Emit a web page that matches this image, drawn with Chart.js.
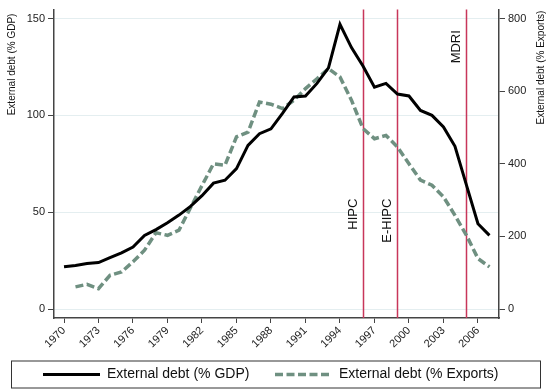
<!DOCTYPE html>
<html>
<head>
<meta charset="utf-8">
<script src="https://cdn.jsdelivr.net/npm/chart.js@4.4.1/dist/chart.umd.min.js"></script>
<style>
  html, body { margin: 0; padding: 0; background: #fff; }
  #wrap { width: 551px; height: 392px; }
</style>
</head>
<body>
<div id="wrap"><canvas id="debtChart"></canvas></div>
<script>
// data
const years = [1970, 1971, 1972, 1973, 1974, 1975, 1976, 1977, 1978, 1979,
               1980, 1981, 1982, 1983, 1984, 1985, 1986, 1987, 1988, 1989,
               1990, 1991, 1992, 1993, 1994, 1995, 1996, 1997, 1998, 1999,
               2000, 2001, 2002, 2003, 2004, 2005, 2006, 2007];
const debtGdp = [21.8, 22.5, 23.5, 24, 26.5, 29, 32, 38, 41, 44.5,
                 48.5, 53, 58.5, 65, 66.5, 72.5, 84.5, 90.5, 93, 101,
                 109.5, 110, 116.5, 124.5, 147, 135, 125.5, 114.5, 116.5, 111,
                 110, 102.5, 100, 94, 84, 64, 44, 38];
const debtExports = [null, 61, 68, 56, 93, 102, 130, 162, 210, 203,
                     217, 279, 340, 400, 396, 474, 487, 570, 564, 552,
                     575, 607, 634, 662, 639, 575, 497, 469, 478, 446,
                     400, 355, 341, 309, 258, 203, 139, 116];
const xTicks = [1970, 1973, 1976, 1979, 1982, 1985, 1988, 1991, 1994, 1997, 2000, 2003, 2006];
const gdpTicks = [0, 50, 100, 150];
const exportTicks = [0, 200, 400, 600, 800];
const eventYears = [1996, 1999, 2005];
const eventLabels = ['HIPC', 'E-HIPC', 'MDRI'];
const eventLabelTops = [57, 57, 144];   // in % GDP units

const FONT = "'Liberation Sans', Arial, sans-serif";
const EXPORT_SCALE = 800 / 150;
const GDP_COLOR = '#000';
const EXPORT_COLOR = '#6f9081';
const EXPORT_DASH = [8, 3.5];

function points(values) {
    return years.map((yr, i) => ({ x: yr, y: values[i] }));
}

// vertical event lines, axis titles and the framed legend
const decorations = {
    id: 'decorations',
    beforeDatasetsDraw(chart) {
        const ctx = chart.ctx;
        const area = chart.chartArea;
        const x = chart.scales.x;
        ctx.save();
        ctx.strokeStyle = '#c8365a';
        ctx.lineWidth = 1.5;
        eventYears.forEach(yr => {
            const px = Math.round(x.getPixelForValue(yr)) + 0.5;
            ctx.beginPath();
            ctx.moveTo(px, area.top);
            ctx.lineTo(px, area.bottom);
            ctx.stroke();
        });
        ctx.restore();
    },
    afterDraw(chart) {
        const ctx = chart.ctx;
        const area = chart.chartArea;
        const x = chart.scales.x;
        const y = chart.scales.y;
        ctx.save();
        ctx.fillStyle = '#111';
        ctx.font = '13px ' + FONT;
        ctx.textAlign = 'right';
        ctx.textBaseline = 'middle';
        eventYears.forEach((yr, i) => {
            ctx.save();
            ctx.translate(x.getPixelForValue(yr) - 10, y.getPixelForValue(eventLabelTops[i]));
            ctx.rotate(-Math.PI / 2);
            ctx.fillText(eventLabels[i], 0, 0);
            ctx.restore();
        });

        // axis titles, both read bottom to top
        ctx.font = '10px ' + FONT;
        ctx.save();
        ctx.translate(12, area.top + 4);
        ctx.rotate(-Math.PI / 2);
        ctx.fillText('External debt (% GDP)', 0, 0);
        ctx.restore();
        ctx.save();
        ctx.translate(541, area.top + 1);
        ctx.rotate(-Math.PI / 2);
        ctx.fillText('External debt (% Exports)', 0, 0);
        ctx.restore();

        // legend: frame, line samples, labels
        const top = x.bottom - 1.5;
        const mid = top + 14;
        ctx.strokeStyle = '#333';
        ctx.lineWidth = 1;
        ctx.strokeRect(11.5, top + 0.5, 529, 27);

        const items = chart.data.datasets.map((ds, i) => ({
            ds, x0: [43, 275][i]
        }));
        ctx.textAlign = 'left';
        ctx.font = '14px ' + FONT;
        items.forEach(({ ds, x0 }) => {
            ctx.save();
            ctx.strokeStyle = ds.borderColor;
            ctx.lineWidth = ds.borderWidth;
            ctx.setLineDash(ds.borderDash || []);
            ctx.beginPath();
            ctx.moveTo(x0, mid);
            ctx.lineTo(x0 + 57, mid);
            ctx.stroke();
            ctx.restore();
            ctx.fillText(ds.label, x0 + 64, mid);
        });
        ctx.restore();
    }
};

new Chart(document.getElementById('debtChart'), {
    type: 'line',
    data: {
        datasets: [
            {
                label: 'External debt (% GDP)',
                data: points(debtGdp),
                yAxisID: 'y',
                borderColor: GDP_COLOR,
                borderWidth: 3,
                pointRadius: 0,
                tension: 0
            },
            {
                label: 'External debt (% Exports)',
                data: points(debtExports),
                yAxisID: 'y1',
                borderColor: EXPORT_COLOR,
                borderWidth: 3.5,
                borderDash: EXPORT_DASH,
                pointRadius: 0,
                spanGaps: false,
                tension: 0
            }
        ]
    },
    options: {
        responsive: true,
        maintainAspectRatio: false,
        animation: false,
        layout: { padding: { top: 9, left: 0, right: 0, bottom: 30 } },
        plugins: {
            legend: { display: false },
            tooltip: { enabled: false }
        },
        scales: {
            x: {
                type: 'linear',
                min: 1969.13,
                max: 2007.83,
                afterBuildTicks: s => { s.ticks = xTicks.map(v => ({ value: v })); },
                afterFit: s => { s.height = 44; },
                grid: { drawOnChartArea: false, tickLength: 5, tickColor: '#444' },
                border: { color: '#444', width: 1.5 },
                ticks: {
                    autoSkip: false,
                    minRotation: 45,
                    maxRotation: 45,
                    padding: 1,
                    color: '#222',
                    font: { family: FONT, size: 11 },
                    callback: v => String(v)
                }
            },
            y: {
                position: 'left',
                min: -4.64,
                max: 154.6,
                afterBuildTicks: s => { s.ticks = gdpTicks.map(v => ({ value: v })); },
                afterFit: s => { s.width = 54; },
                grid: { color: '#e4eef0', tickLength: 6, tickColor: '#444' },
                border: { color: '#444', width: 1.5 },
                ticks: { padding: 3, color: '#222', font: { family: FONT, size: 11 } }
            },
            y1: {
                position: 'right',
                min: -4.64 * EXPORT_SCALE,
                max: 154.6 * EXPORT_SCALE,
                afterBuildTicks: s => { s.ticks = exportTicks.map(v => ({ value: v })); },
                afterFit: s => { s.width = 52; },
                grid: { drawOnChartArea: false, tickLength: 6, tickColor: '#444' },
                border: { color: '#444', width: 1.5 },
                ticks: { padding: 3, color: '#222', font: { family: FONT, size: 11 } }
            }
        }
    },
    plugins: [decorations]
});
</script>
</body>
</html>
